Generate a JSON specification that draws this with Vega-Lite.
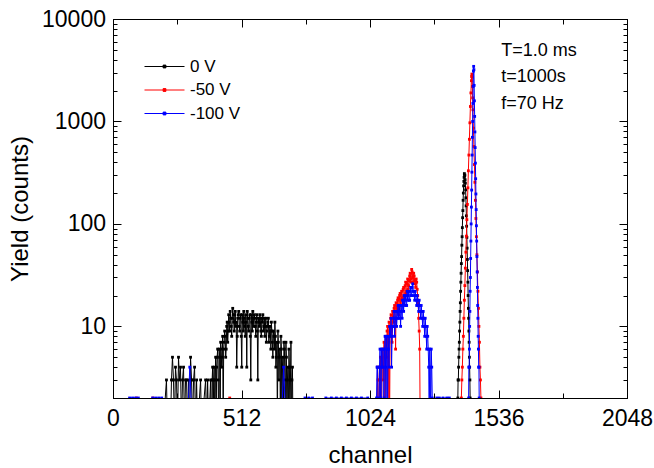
{
"$schema": "https://vega.github.io/schema/vega-lite/v6.json",
"width": 514, "height": 379,
"autosize": {"type": "none"},
"padding": {"left": 113, "top": 19, "right": 27, "bottom": 70},
"background": "white",
"config": {
  "view": {"stroke": "black", "strokeWidth": 1},
  "font": "Liberation Sans",
  "axis": {"domainColor": "black", "tickColor": "black", "labelColor": "black", "titleColor": "black", "grid": false, "labelFont": "Liberation Sans", "titleFont": "Liberation Sans", "titleFontWeight": "normal", "zindex": 1, "tickWidth": 1, "domainWidth": 1}
},
"layer": [
{
  "data": {"values": [
{"s":"0 V","c":200,"v":1},{"s":"0 V","c":213,"v":3},{"s":"0 V","c":217,"v":1},{"s":"0 V","c":229,"v":1},{"s":"0 V","c":233,"v":3},{"s":"0 V","c":237,"v":5},{"s":"0 V","c":241,"v":3},{"s":"0 V","c":245,"v":1},{"s":"0 V","c":249,"v":4},{"s":"0 V","c":253,"v":3},{"s":"0 V","c":257,"v":1},{"s":"0 V","c":261,"v":5},{"s":"0 V","c":265,"v":3},{"s":"0 V","c":269,"v":4},{"s":"0 V","c":273,"v":1},{"s":"0 V","c":277,"v":3},{"s":"0 V","c":281,"v":4},{"s":"0 V","c":285,"v":1},{"s":"0 V","c":289,"v":3},{"s":"0 V","c":293,"v":3},{"s":"0 V","c":297,"v":1},{"s":"0 V","c":301,"v":3},{"s":"0 V","c":305,"v":1},{"s":"0 V","c":309,"v":5},{"s":"0 V","c":313,"v":3},{"s":"0 V","c":317,"v":1},{"s":"0 V","c":321,"v":3},{"s":"0 V","c":325,"v":4},{"s":"0 V","c":329,"v":1},{"s":"0 V","c":333,"v":3},{"s":"0 V","c":337,"v":1},{"s":"0 V","c":349,"v":3},{"s":"0 V","c":353,"v":1},{"s":"0 V","c":369,"v":3},{"s":"0 V","c":373,"v":1},{"s":"0 V","c":377,"v":3},{"s":"0 V","c":381,"v":1},
{"s":"0 V","c":389,"v":3},{"s":"0 V","c":393,"v":1},{"s":"0 V","c":397,"v":4},{"s":"0 V","c":401,"v":3},{"s":"0 V","c":405,"v":1},{"s":"0 V","c":409,"v":5},{"s":"0 V","c":413,"v":4},{"s":"0 V","c":417,"v":6},{"s":"0 V","c":421,"v":1},{"s":"0 V","c":425,"v":5},{"s":"0 V","c":429,"v":7},{"s":"0 V","c":433,"v":4},{"s":"0 V","c":437,"v":8},{"s":"0 V","c":441,"v":6},{"s":"0 V","c":445,"v":9},{"s":"0 V","c":449,"v":5},{"s":"0 V","c":453,"v":10},{"s":"0 V","c":457,"v":7},{"s":"0 V","c":461,"v":13},{"s":"0 V","c":465,"v":9},{"s":"0 V","c":469,"v":12},{"s":"0 V","c":473,"v":8},{"s":"0 V","c":477,"v":15},{"s":"0 V","c":481,"v":11},{"s":"0 V","c":485,"v":13},{"s":"0 V","c":489,"v":10},{"s":"0 V","c":493,"v":4},{"s":"0 V","c":497,"v":12},{"s":"0 V","c":501,"v":14},{"s":"0 V","c":505,"v":9},{"s":"0 V","c":509,"v":13},{"s":"0 V","c":513,"v":4},{"s":"0 V","c":517,"v":11},{"s":"0 V","c":521,"v":14},{"s":"0 V","c":525,"v":10},{"s":"0 V","c":529,"v":13},{"s":"0 V","c":533,"v":4},{"s":"0 V","c":537,"v":12},{"s":"0 V","c":541,"v":9},{"s":"0 V","c":545,"v":13},{"s":"0 V","c":549,"v":3},{"s":"0 V","c":553,"v":11},{"s":"0 V","c":557,"v":14},{"s":"0 V","c":561,"v":10},{"s":"0 V","c":565,"v":12},{"s":"0 V","c":569,"v":8},{"s":"0 V","c":573,"v":13},{"s":"0 V","c":577,"v":3},{"s":"0 V","c":581,"v":11},{"s":"0 V","c":585,"v":13},{"s":"0 V","c":589,"v":9},{"s":"0 V","c":593,"v":12},{"s":"0 V","c":597,"v":13},{"s":"0 V","c":601,"v":10},{"s":"0 V","c":605,"v":8},{"s":"0 V","c":609,"v":12},{"s":"0 V","c":613,"v":9},{"s":"0 V","c":617,"v":11},{"s":"0 V","c":621,"v":7},{"s":"0 V","c":625,"v":10},{"s":"0 V","c":629,"v":6},{"s":"0 V","c":633,"v":9},{"s":"0 V","c":637,"v":5},{"s":"0 V","c":641,"v":8},{"s":"0 V","c":645,"v":11},{"s":"0 V","c":649,"v":4},{"s":"0 V","c":653,"v":7},{"s":"0 V","c":657,"v":9},{"s":"0 V","c":661,"v":3},{"s":"0 V","c":665,"v":6},{"s":"0 V","c":669,"v":8},{"s":"0 V","c":673,"v":1},{"s":"0 V","c":677,"v":5},{"s":"0 V","c":681,"v":7},{"s":"0 V","c":685,"v":3},{"s":"0 V","c":689,"v":7},{"s":"0 V","c":693,"v":1},{"s":"0 V","c":697,"v":4},{"s":"0 V","c":701,"v":6},{"s":"0 V","c":705,"v":1},{"s":"0 V","c":709,"v":7},{"s":"0 V","c":713,"v":3},{"s":"0 V","c":717,"v":1},
{"s":"0 V","c":391,"v":1},{"s":"0 V","c":395,"v":3},{"s":"0 V","c":399,"v":1},{"s":"0 V","c":403,"v":4},{"s":"0 V","c":407,"v":3},{"s":"0 V","c":411,"v":1},{"s":"0 V","c":415,"v":5},{"s":"0 V","c":419,"v":3},{"s":"0 V","c":423,"v":6},{"s":"0 V","c":427,"v":1},{"s":"0 V","c":431,"v":6},{"s":"0 V","c":435,"v":5},{"s":"0 V","c":439,"v":1},{"s":"0 V","c":443,"v":7},{"s":"0 V","c":447,"v":8},{"s":"0 V","c":451,"v":6},{"s":"0 V","c":455,"v":11},{"s":"0 V","c":459,"v":9},{"s":"0 V","c":463,"v":11},{"s":"0 V","c":467,"v":14},{"s":"0 V","c":471,"v":10},{"s":"0 V","c":475,"v":12},{"s":"0 V","c":479,"v":13},{"s":"0 V","c":483,"v":9},{"s":"0 V","c":487,"v":14},{"s":"0 V","c":491,"v":11},{"s":"0 V","c":495,"v":8},{"s":"0 V","c":499,"v":13},{"s":"0 V","c":503,"v":10},{"s":"0 V","c":507,"v":12},{"s":"0 V","c":511,"v":8},{"s":"0 V","c":515,"v":13},{"s":"0 V","c":519,"v":9},{"s":"0 V","c":523,"v":12},{"s":"0 V","c":527,"v":8},{"s":"0 V","c":531,"v":11},{"s":"0 V","c":535,"v":14},{"s":"0 V","c":539,"v":10},{"s":"0 V","c":543,"v":12},{"s":"0 V","c":547,"v":8},{"s":"0 V","c":551,"v":13},{"s":"0 V","c":555,"v":9},{"s":"0 V","c":559,"v":12},{"s":"0 V","c":563,"v":13},{"s":"0 V","c":567,"v":10},{"s":"0 V","c":571,"v":11},{"s":"0 V","c":575,"v":9},{"s":"0 V","c":579,"v":12},{"s":"0 V","c":583,"v":10},{"s":"0 V","c":587,"v":12},{"s":"0 V","c":591,"v":8},{"s":"0 V","c":595,"v":11},{"s":"0 V","c":599,"v":9},{"s":"0 V","c":603,"v":12},{"s":"0 V","c":607,"v":10},{"s":"0 V","c":611,"v":7},{"s":"0 V","c":615,"v":10},{"s":"0 V","c":619,"v":12},{"s":"0 V","c":623,"v":8},{"s":"0 V","c":627,"v":9},{"s":"0 V","c":631,"v":11},{"s":"0 V","c":635,"v":7},{"s":"0 V","c":639,"v":9},{"s":"0 V","c":643,"v":6},{"s":"0 V","c":647,"v":8},{"s":"0 V","c":651,"v":5},{"s":"0 V","c":655,"v":1},{"s":"0 V","c":659,"v":7},{"s":"0 V","c":663,"v":5},{"s":"0 V","c":667,"v":1},{"s":"0 V","c":671,"v":6},{"s":"0 V","c":675,"v":4},{"s":"0 V","c":679,"v":1},{"s":"0 V","c":683,"v":6},{"s":"0 V","c":687,"v":1},{"s":"0 V","c":691,"v":5},{"s":"0 V","c":695,"v":3},{"s":"0 V","c":699,"v":1},{"s":"0 V","c":703,"v":4},{"s":"0 V","c":707,"v":3},{"s":"0 V","c":711,"v":1},{"s":"0 V","c":715,"v":4},
{"s":"0 V","c":1372,"v":1},{"s":"0 V","c":1374,"v":2},{"s":"0 V","c":1375,"v":3},{"s":"0 V","c":1376,"v":3},{"s":"0 V","c":1377,"v":4},{"s":"0 V","c":1378,"v":5},{"s":"0 V","c":1379,"v":6},{"s":"0 V","c":1380,"v":7},{"s":"0 V","c":1381,"v":9},{"s":"0 V","c":1382,"v":11},{"s":"0 V","c":1383,"v":14},{"s":"0 V","c":1384,"v":17},{"s":"0 V","c":1385,"v":22},{"s":"0 V","c":1386,"v":27},{"s":"0 V","c":1387,"v":33},{"s":"0 V","c":1388,"v":41},{"s":"0 V","c":1389,"v":48},{"s":"0 V","c":1390,"v":62},{"s":"0 V","c":1391,"v":75},{"s":"0 V","c":1392,"v":92},{"s":"0 V","c":1393,"v":115},{"s":"0 V","c":1394,"v":135},{"s":"0 V","c":1395,"v":170},{"s":"0 V","c":1396,"v":200},{"s":"0 V","c":1397,"v":235},{"s":"0 V","c":1398,"v":260},{"s":"0 V","c":1399,"v":285},{"s":"0 V","c":1400,"v":310},{"s":"0 V","c":1401,"v":295},{"s":"0 V","c":1402,"v":300},{"s":"0 V","c":1403,"v":270},{"s":"0 V","c":1404,"v":250},{"s":"0 V","c":1405,"v":215},{"s":"0 V","c":1406,"v":180},{"s":"0 V","c":1407,"v":150},{"s":"0 V","c":1408,"v":120},{"s":"0 V","c":1409,"v":95},{"s":"0 V","c":1410,"v":74},{"s":"0 V","c":1411,"v":58},{"s":"0 V","c":1412,"v":45},{"s":"0 V","c":1413,"v":35},{"s":"0 V","c":1414,"v":27},{"s":"0 V","c":1415,"v":20},{"s":"0 V","c":1416,"v":15},{"s":"0 V","c":1417,"v":12},{"s":"0 V","c":1418,"v":9},{"s":"0 V","c":1419,"v":7},{"s":"0 V","c":1420,"v":5},{"s":"0 V","c":1421,"v":4},{"s":"0 V","c":1422,"v":3},{"s":"0 V","c":1423,"v":2},{"s":"0 V","c":1424,"v":1},
{"s":"-50 V","c":0,"v":1},{"s":"-50 V","c":93,"v":2},{"s":"-50 V","c":97,"v":1},{"s":"-50 V","c":155,"v":1},{"s":"-50 V","c":159,"v":2},{"s":"-50 V","c":163,"v":1},{"s":"-50 V","c":461,"v":1},{"s":"-50 V","c":465,"v":2},{"s":"-50 V","c":469,"v":1},
{"s":"-50 V","c":1050,"v":1},{"s":"-50 V","c":1054,"v":4},{"s":"-50 V","c":1058,"v":1},{"s":"-50 V","c":1062,"v":3},{"s":"-50 V","c":1066,"v":5},{"s":"-50 V","c":1070,"v":1},{"s":"-50 V","c":1074,"v":6},{"s":"-50 V","c":1078,"v":4},{"s":"-50 V","c":1082,"v":1},{"s":"-50 V","c":1086,"v":8},{"s":"-50 V","c":1090,"v":5},{"s":"-50 V","c":1094,"v":10},{"s":"-50 V","c":1098,"v":7},{"s":"-50 V","c":1102,"v":1},{"s":"-50 V","c":1106,"v":12},{"s":"-50 V","c":1110,"v":9},{"s":"-50 V","c":1114,"v":14},{"s":"-50 V","c":1118,"v":11},{"s":"-50 V","c":1122,"v":16},{"s":"-50 V","c":1126,"v":6},{"s":"-50 V","c":1130,"v":15},{"s":"-50 V","c":1134,"v":18},{"s":"-50 V","c":1138,"v":13},{"s":"-50 V","c":1142,"v":20},{"s":"-50 V","c":1146,"v":16},{"s":"-50 V","c":1150,"v":22},{"s":"-50 V","c":1154,"v":17},{"s":"-50 V","c":1158,"v":24},{"s":"-50 V","c":1162,"v":19},{"s":"-50 V","c":1166,"v":27},{"s":"-50 V","c":1170,"v":22},{"s":"-50 V","c":1174,"v":29},{"s":"-50 V","c":1178,"v":25},{"s":"-50 V","c":1182,"v":31},{"s":"-50 V","c":1186,"v":27},{"s":"-50 V","c":1190,"v":36},{"s":"-50 V","c":1194,"v":30},{"s":"-50 V","c":1198,"v":33},{"s":"-50 V","c":1202,"v":28},{"s":"-50 V","c":1206,"v":24},{"s":"-50 V","c":1210,"v":27},{"s":"-50 V","c":1214,"v":20},{"s":"-50 V","c":1218,"v":12},{"s":"-50 V","c":1222,"v":6},{"s":"-50 V","c":1226,"v":1},
{"s":"-50 V","c":1052,"v":1},{"s":"-50 V","c":1056,"v":3},{"s":"-50 V","c":1060,"v":1},{"s":"-50 V","c":1064,"v":4},{"s":"-50 V","c":1068,"v":1},{"s":"-50 V","c":1072,"v":5},{"s":"-50 V","c":1076,"v":3},{"s":"-50 V","c":1080,"v":7},{"s":"-50 V","c":1084,"v":1},{"s":"-50 V","c":1088,"v":6},{"s":"-50 V","c":1092,"v":9},{"s":"-50 V","c":1096,"v":1},{"s":"-50 V","c":1100,"v":11},{"s":"-50 V","c":1104,"v":8},{"s":"-50 V","c":1108,"v":13},{"s":"-50 V","c":1112,"v":7},{"s":"-50 V","c":1116,"v":12},{"s":"-50 V","c":1120,"v":15},{"s":"-50 V","c":1124,"v":10},{"s":"-50 V","c":1128,"v":17},{"s":"-50 V","c":1132,"v":14},{"s":"-50 V","c":1136,"v":19},{"s":"-50 V","c":1140,"v":15},{"s":"-50 V","c":1144,"v":21},{"s":"-50 V","c":1148,"v":18},{"s":"-50 V","c":1152,"v":19},{"s":"-50 V","c":1156,"v":23},{"s":"-50 V","c":1160,"v":20},{"s":"-50 V","c":1164,"v":25},{"s":"-50 V","c":1168,"v":21},{"s":"-50 V","c":1172,"v":26},{"s":"-50 V","c":1176,"v":23},{"s":"-50 V","c":1180,"v":28},{"s":"-50 V","c":1184,"v":33},{"s":"-50 V","c":1188,"v":29},{"s":"-50 V","c":1192,"v":34},{"s":"-50 V","c":1196,"v":27},{"s":"-50 V","c":1200,"v":31},{"s":"-50 V","c":1204,"v":26},{"s":"-50 V","c":1208,"v":29},{"s":"-50 V","c":1212,"v":23},{"s":"-50 V","c":1216,"v":17},{"s":"-50 V","c":1220,"v":9},{"s":"-50 V","c":1224,"v":1},
{"s":"-50 V","c":1386,"v":1},{"s":"-50 V","c":1388,"v":2},{"s":"-50 V","c":1390,"v":3},{"s":"-50 V","c":1392,"v":4},{"s":"-50 V","c":1394,"v":6},{"s":"-50 V","c":1396,"v":8},{"s":"-50 V","c":1398,"v":12},{"s":"-50 V","c":1400,"v":18},{"s":"-50 V","c":1402,"v":25},{"s":"-50 V","c":1404,"v":37},{"s":"-50 V","c":1406,"v":53},{"s":"-50 V","c":1408,"v":76},{"s":"-50 V","c":1410,"v":110},{"s":"-50 V","c":1412,"v":155},{"s":"-50 V","c":1414,"v":225},{"s":"-50 V","c":1416,"v":330},{"s":"-50 V","c":1418,"v":470},{"s":"-50 V","c":1420,"v":670},{"s":"-50 V","c":1422,"v":970},{"s":"-50 V","c":1424,"v":1400},{"s":"-50 V","c":1426,"v":1900},{"s":"-50 V","c":1428,"v":2500},{"s":"-50 V","c":1429,"v":2750},{"s":"-50 V","c":1430,"v":2900},{"s":"-50 V","c":1431,"v":2700},{"s":"-50 V","c":1432,"v":2200},{"s":"-50 V","c":1433,"v":1700},{"s":"-50 V","c":1434,"v":1300},{"s":"-50 V","c":1436,"v":860},{"s":"-50 V","c":1438,"v":570},{"s":"-50 V","c":1440,"v":380},{"s":"-50 V","c":1442,"v":255},{"s":"-50 V","c":1444,"v":170},{"s":"-50 V","c":1446,"v":113},{"s":"-50 V","c":1448,"v":75},{"s":"-50 V","c":1450,"v":50},{"s":"-50 V","c":1452,"v":34},{"s":"-50 V","c":1454,"v":22},{"s":"-50 V","c":1456,"v":15},{"s":"-50 V","c":1458,"v":10},{"s":"-50 V","c":1460,"v":7},{"s":"-50 V","c":1462,"v":4},{"s":"-50 V","c":1464,"v":3},{"s":"-50 V","c":1466,"v":2},{"s":"-50 V","c":1468,"v":1},
{"s":"-100 V","c":20,"v":1},{"s":"-100 V","c":66,"v":2},{"s":"-100 V","c":78,"v":2},{"s":"-100 V","c":90,"v":2},{"s":"-100 V","c":101,"v":2},{"s":"-100 V","c":112,"v":1},{"s":"-100 V","c":150,"v":1},{"s":"-100 V","c":158,"v":2},{"s":"-100 V","c":170,"v":2},{"s":"-100 V","c":182,"v":2},{"s":"-100 V","c":194,"v":2},{"s":"-100 V","c":206,"v":1},{"s":"-100 V","c":296,"v":1},{"s":"-100 V","c":306,"v":4},{"s":"-100 V","c":316,"v":1},{"s":"-100 V","c":670,"v":1},{"s":"-100 V","c":680,"v":4},{"s":"-100 V","c":690,"v":1},{"s":"-100 V","c":760,"v":1},{"s":"-100 V","c":765,"v":2},{"s":"-100 V","c":780,"v":2},{"s":"-100 V","c":795,"v":2},{"s":"-100 V","c":805,"v":1},{"s":"-100 V","c":840,"v":1},{"s":"-100 V","c":848,"v":2},{"s":"-100 V","c":870,"v":2},{"s":"-100 V","c":890,"v":2},{"s":"-100 V","c":910,"v":2},{"s":"-100 V","c":930,"v":2},{"s":"-100 V","c":950,"v":2},{"s":"-100 V","c":970,"v":2},{"s":"-100 V","c":990,"v":2},{"s":"-100 V","c":1015,"v":2},{"s":"-100 V","c":1025,"v":1},
{"s":"-100 V","c":1046,"v":1},{"s":"-100 V","c":1050,"v":2},{"s":"-100 V","c":1054,"v":4},{"s":"-100 V","c":1058,"v":1},{"s":"-100 V","c":1062,"v":4},{"s":"-100 V","c":1066,"v":2},{"s":"-100 V","c":1070,"v":6},{"s":"-100 V","c":1074,"v":4},{"s":"-100 V","c":1078,"v":1},{"s":"-100 V","c":1082,"v":6},{"s":"-100 V","c":1086,"v":4},{"s":"-100 V","c":1090,"v":8},{"s":"-100 V","c":1094,"v":1},{"s":"-100 V","c":1098,"v":6},{"s":"-100 V","c":1102,"v":10},{"s":"-100 V","c":1106,"v":8},{"s":"-100 V","c":1110,"v":4},{"s":"-100 V","c":1114,"v":10},{"s":"-100 V","c":1118,"v":12},{"s":"-100 V","c":1122,"v":8},{"s":"-100 V","c":1126,"v":12},{"s":"-100 V","c":1130,"v":10},{"s":"-100 V","c":1134,"v":14},{"s":"-100 V","c":1138,"v":12},{"s":"-100 V","c":1142,"v":16},{"s":"-100 V","c":1146,"v":10},{"s":"-100 V","c":1150,"v":14},{"s":"-100 V","c":1154,"v":18},{"s":"-100 V","c":1158,"v":14},{"s":"-100 V","c":1162,"v":16},{"s":"-100 V","c":1166,"v":20},{"s":"-100 V","c":1170,"v":16},{"s":"-100 V","c":1174,"v":18},{"s":"-100 V","c":1178,"v":22},{"s":"-100 V","c":1182,"v":18},{"s":"-100 V","c":1186,"v":24},{"s":"-100 V","c":1190,"v":20},{"s":"-100 V","c":1194,"v":26},{"s":"-100 V","c":1198,"v":22},{"s":"-100 V","c":1202,"v":18},{"s":"-100 V","c":1206,"v":20},{"s":"-100 V","c":1210,"v":16},{"s":"-100 V","c":1214,"v":18},{"s":"-100 V","c":1218,"v":14},{"s":"-100 V","c":1222,"v":16},{"s":"-100 V","c":1226,"v":12},{"s":"-100 V","c":1230,"v":14},{"s":"-100 V","c":1234,"v":10},{"s":"-100 V","c":1238,"v":12},{"s":"-100 V","c":1242,"v":8},{"s":"-100 V","c":1246,"v":10},{"s":"-100 V","c":1250,"v":6},{"s":"-100 V","c":1254,"v":8},{"s":"-100 V","c":1258,"v":4},{"s":"-100 V","c":1262,"v":6},{"s":"-100 V","c":1266,"v":1},{"s":"-100 V","c":1270,"v":4},{"s":"-100 V","c":1274,"v":1},{"s":"-100 V","c":1286,"v":1},{"s":"-100 V","c":1290,"v":2},{"s":"-100 V","c":1300,"v":2},{"s":"-100 V","c":1315,"v":2},{"s":"-100 V","c":1330,"v":2},{"s":"-100 V","c":1340,"v":2},{"s":"-100 V","c":1348,"v":1},
{"s":"-100 V","c":1048,"v":1},{"s":"-100 V","c":1052,"v":4},{"s":"-100 V","c":1056,"v":2},{"s":"-100 V","c":1060,"v":1},{"s":"-100 V","c":1064,"v":6},{"s":"-100 V","c":1068,"v":1},{"s":"-100 V","c":1072,"v":4},{"s":"-100 V","c":1076,"v":6},{"s":"-100 V","c":1080,"v":2},{"s":"-100 V","c":1084,"v":8},{"s":"-100 V","c":1088,"v":1},{"s":"-100 V","c":1092,"v":6},{"s":"-100 V","c":1096,"v":8},{"s":"-100 V","c":1100,"v":4},{"s":"-100 V","c":1104,"v":10},{"s":"-100 V","c":1108,"v":12},{"s":"-100 V","c":1112,"v":8},{"s":"-100 V","c":1116,"v":10},{"s":"-100 V","c":1120,"v":14},{"s":"-100 V","c":1124,"v":10},{"s":"-100 V","c":1128,"v":14},{"s":"-100 V","c":1132,"v":12},{"s":"-100 V","c":1136,"v":16},{"s":"-100 V","c":1140,"v":12},{"s":"-100 V","c":1144,"v":14},{"s":"-100 V","c":1148,"v":16},{"s":"-100 V","c":1152,"v":12},{"s":"-100 V","c":1156,"v":18},{"s":"-100 V","c":1160,"v":20},{"s":"-100 V","c":1164,"v":18},{"s":"-100 V","c":1168,"v":16},{"s":"-100 V","c":1172,"v":22},{"s":"-100 V","c":1176,"v":20},{"s":"-100 V","c":1180,"v":18},{"s":"-100 V","c":1184,"v":22},{"s":"-100 V","c":1188,"v":20},{"s":"-100 V","c":1192,"v":24},{"s":"-100 V","c":1196,"v":22},{"s":"-100 V","c":1200,"v":20},{"s":"-100 V","c":1204,"v":22},{"s":"-100 V","c":1208,"v":18},{"s":"-100 V","c":1212,"v":20},{"s":"-100 V","c":1216,"v":16},{"s":"-100 V","c":1220,"v":18},{"s":"-100 V","c":1224,"v":14},{"s":"-100 V","c":1228,"v":16},{"s":"-100 V","c":1232,"v":12},{"s":"-100 V","c":1236,"v":14},{"s":"-100 V","c":1240,"v":10},{"s":"-100 V","c":1244,"v":12},{"s":"-100 V","c":1248,"v":8},{"s":"-100 V","c":1252,"v":10},{"s":"-100 V","c":1256,"v":6},{"s":"-100 V","c":1260,"v":1},{"s":"-100 V","c":1264,"v":4},{"s":"-100 V","c":1268,"v":6},{"s":"-100 V","c":1272,"v":2},
{"s":"-100 V","c":1416,"v":1},{"s":"-100 V","c":1417,"v":2},{"s":"-100 V","c":1418,"v":4},{"s":"-100 V","c":1419,"v":4},{"s":"-100 V","c":1420,"v":6},{"s":"-100 V","c":1421,"v":10},{"s":"-100 V","c":1422,"v":14},{"s":"-100 V","c":1423,"v":22},{"s":"-100 V","c":1424,"v":30},{"s":"-100 V","c":1425,"v":46},{"s":"-100 V","c":1426,"v":68},{"s":"-100 V","c":1427,"v":100},{"s":"-100 V","c":1428,"v":146},{"s":"-100 V","c":1429,"v":214},{"s":"-100 V","c":1430,"v":320},{"s":"-100 V","c":1431,"v":470},{"s":"-100 V","c":1432,"v":700},{"s":"-100 V","c":1433,"v":1000},{"s":"-100 V","c":1434,"v":1500},{"s":"-100 V","c":1435,"v":2200},{"s":"-100 V","c":1436,"v":3100},{"s":"-100 V","c":1437,"v":3450},{"s":"-100 V","c":1438,"v":3200},{"s":"-100 V","c":1439,"v":2250},{"s":"-100 V","c":1440,"v":1590},{"s":"-100 V","c":1441,"v":1120},{"s":"-100 V","c":1442,"v":790},{"s":"-100 V","c":1443,"v":556},{"s":"-100 V","c":1444,"v":392},{"s":"-100 V","c":1445,"v":276},{"s":"-100 V","c":1446,"v":196},{"s":"-100 V","c":1447,"v":138},{"s":"-100 V","c":1448,"v":96},{"s":"-100 V","c":1449,"v":68},{"s":"-100 V","c":1450,"v":48},{"s":"-100 V","c":1451,"v":34},{"s":"-100 V","c":1452,"v":24},{"s":"-100 V","c":1453,"v":16},{"s":"-100 V","c":1454,"v":12},{"s":"-100 V","c":1455,"v":8},{"s":"-100 V","c":1456,"v":6},{"s":"-100 V","c":1457,"v":4},{"s":"-100 V","c":1458,"v":4},{"s":"-100 V","c":1459,"v":2},{"s":"-100 V","c":1460,"v":1}
  ]},
  "encoding": {
    "x": {"field": "c", "type": "quantitative", "title": "channel",
      "scale": {"domain": [0, 2048], "nice": false, "zero": false},
      "axis": {"orient": "bottom", "zindex": 1, "values": [0,256,512,768,1024,1280,1536,1792,2048],
        "labelExpr": "datum.value % 512 === 0 ? format(datum.value,'d') : ''",
        "tickSize": {"condition": {"test": "datum.value % 512 === 0", "value": -8}, "value": -5},
        "labelFontSize": 23, "labelPadding": 17, "labelFlush": false, "labelOverlap": false,
        "titleFontSize": 24, "titlePadding": 10}},
    "y": {"field": "v", "type": "quantitative", "title": "Yield (counts)",
      "scale": {"type": "log", "domain": [2, 10000], "nice": false},
      "axis": {"orient": "left", "zindex": 1, "values": [2,3,4,5,6,7,8,9,10,20,30,40,50,60,70,80,90,100,200,300,400,500,600,700,800,900,1000,2000,3000,4000,5000,6000,7000,8000,9000,10000],
        "labelExpr": "(datum.value===10||datum.value===100||datum.value===1000||datum.value===10000) ? format(datum.value,'d') : ''",
        "tickSize": {"condition": {"test": "datum.value===10||datum.value===100||datum.value===1000||datum.value===10000", "value": -8}, "value": -4},
        "labelFontSize": 23, "labelPadding": 15.5, "labelOverlap": false, "labelFlush": false,
        "titleFontSize": 24, "titlePadding": 9}},
    "color": {"field": "s", "type": "nominal",
      "scale": {"domain": ["0 V", "-50 V", "-100 V"], "range": ["#000000", "#ff0000", "#0000ff"]},
      "legend": {"orient": "none", "legendX": 43, "legendY": 39, "title": null, "padding": 0,
        "symbolType": "M-10,0H10M-0.7,-0.7H0.7V0.7H-0.7Z", "symbolSize": 16, "symbolStrokeWidth": 1,
        "labelFontSize": 17, "labelFont": "Liberation Sans", "labelColor": "black", "labelOffset": 17, "rowPadding": 5.5}}
  },
  "layer": [
    {"transform": [{"filter": "datum.s === '0 V'"}], "mark": {"type": "line", "clip": true, "strokeWidth": 1, "point": {"filled": true, "shape": "square", "size": 8, "clip": true}}},
    {"transform": [{"filter": "datum.s === '-50 V'"}], "mark": {"type": "line", "clip": true, "strokeWidth": 1, "point": {"filled": true, "shape": "square", "size": 8, "clip": true}}},
    {"transform": [{"filter": "datum.s === '-100 V'"}], "mark": {"type": "line", "clip": true, "strokeWidth": 1, "point": {"filled": true, "shape": "square", "size": 8, "clip": true}}}
  ]
},
{
  "data": {"values": [{"note": "conditions"}]},
  "mark": {"type": "text", "align": "left", "baseline": "alphabetic", "fontSize": 18, "lineHeight": 26.5, "font": "Liberation Sans", "color": "black"},
  "encoding": {
    "x": {"datum": 1547, "type": "quantitative",
      "scale": {"domain": [0, 2048], "nice": false, "zero": false},
      "axis": {"orient": "top", "zindex": 1, "title": null, "labels": false, "values": [0,256,512,768,1024,1280,1536,1792,2048],
        "tickSize": {"condition": {"test": "datum.value % 512 === 0", "value": -8}, "value": -5}}},
    "y": {"datum": 4393, "type": "quantitative",
      "scale": {"type": "log", "domain": [2, 10000], "nice": false},
      "axis": {"orient": "right", "zindex": 1, "title": null, "labels": false, "values": [2,3,4,5,6,7,8,9,10,20,30,40,50,60,70,80,90,100,200,300,400,500,600,700,800,900,1000,2000,3000,4000,5000,6000,7000,8000,9000,10000],
        "tickSize": {"condition": {"test": "datum.value===10||datum.value===100||datum.value===1000||datum.value===10000", "value": -8}, "value": -4}}},
    "text": {"value": ["T=1.0 ms", "t=1000s", "f=70 Hz"]}
  }
}
],
"resolve": {"axis": {"x": "independent", "y": "independent"}}
}
